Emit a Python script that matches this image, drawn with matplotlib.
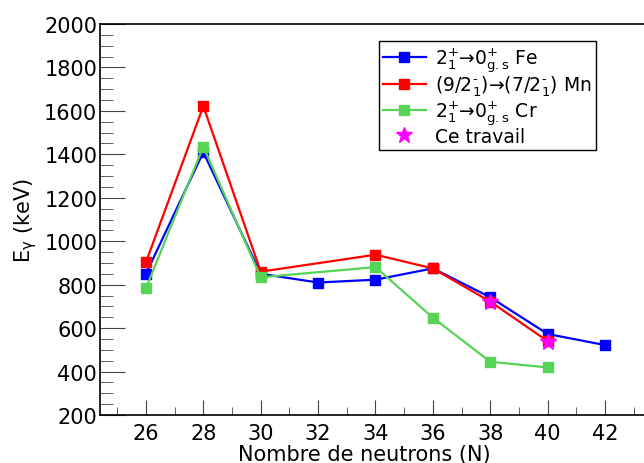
import numpy as np
import matplotlib
matplotlib.use("Agg")
from matplotlib import pyplot as plt
from matplotlib.ticker import MultipleLocator

# neutron numbers and gamma energies (keV)
n_fe = [26, 28, 30, 32, 34, 36, 38, 40, 42]
e_fe = [850, 1410, 850, 810, 823, 875, 742, 573, 522]

n_mn = [26, 28, 30, 34, 36, 38, 40]
e_mn = [903, 1622, 860, 938, 875, 722, 540]

n_cr = [26, 28, 30, 34, 36, 38, 40]
e_cr = [783, 1436, 834, 881, 648, 445, 419]

n_this = [38, 40]
e_this = [720, 538]

labels = ["2$^{+}_{1}$→0$^{+}_{g{.}s}$ Fe",
          "(9/2$^{\u2010}_{1}$)→(7/2$^{\u2010}_{1}$) Mn",
          "2$^{+}_{1}$→0$^{+}_{g{.}s}$ Cr",
          "Ce travail"]

plt.rcParams['font.family'] = ['DejaVu Sans']
plt.rcParams['mathtext.fontset'] = 'dejavusans'
plt.rcParams['mathtext.default'] = 'regular'

fig = plt.figure(figsize=(6.44, 4.64), dpi=100)
ax = fig.add_axes([0.1553, 0.1034, 0.86, 0.8427])

ax.plot(n_fe, e_fe, color='#0000ff', marker='s', ms=6.5, lw=1.6, label=labels[0])
ax.plot(n_mn, e_mn, color='#ff0000', marker='s', ms=6.5, lw=1.6, label=labels[1])
ax.plot(n_cr, e_cr, color='#55d455', marker='s', ms=6.5, lw=1.6, label=labels[2])
ax.plot(n_this, e_this, color='#ff00ff', marker='*', ms=12, ls='none', label=labels[3])

ax.set_xlim(24.4, 43.7)
ax.set_ylim(200, 2000)
ax.xaxis.set_major_locator(MultipleLocator(2))
ax.xaxis.set_minor_locator(MultipleLocator(1))
ax.yaxis.set_major_locator(MultipleLocator(200))
ax.yaxis.set_minor_locator(MultipleLocator(50))
ax.tick_params(which='both', direction='in', labelsize=15, color='#444444')
ax.tick_params(axis='x', which='major', length=11, pad=6)
ax.tick_params(axis='x', which='minor', length=6)
ax.tick_params(axis='y', which='major', length=18, pad=2)
ax.tick_params(axis='y', which='minor', length=9)
ax.spines['right'].set_visible(False)
for s in ['left', 'bottom', 'top']:
    ax.spines[s].set_linewidth(1.2)

ax.set_xlabel("Nombre de neutrons (N)", fontsize=15, labelpad=0)
ax.xaxis.set_label_coords(0.478, -0.075)
ax.set_ylabel(r"E$_{\gamma}$ (keV)", fontsize=15, labelpad=4)

leg = ax.legend(loc='upper left', bbox_to_anchor=(0.5036, 0.9565), fontsize=13.5,
                fancybox=False, framealpha=1, edgecolor='black',
                handlelength=2.3, labelspacing=0.0, borderpad=0.2,
                handletextpad=0.5, borderaxespad=0)
leg.get_frame().set_linewidth(1.0)

fig.savefig("out.png", dpi=100)
